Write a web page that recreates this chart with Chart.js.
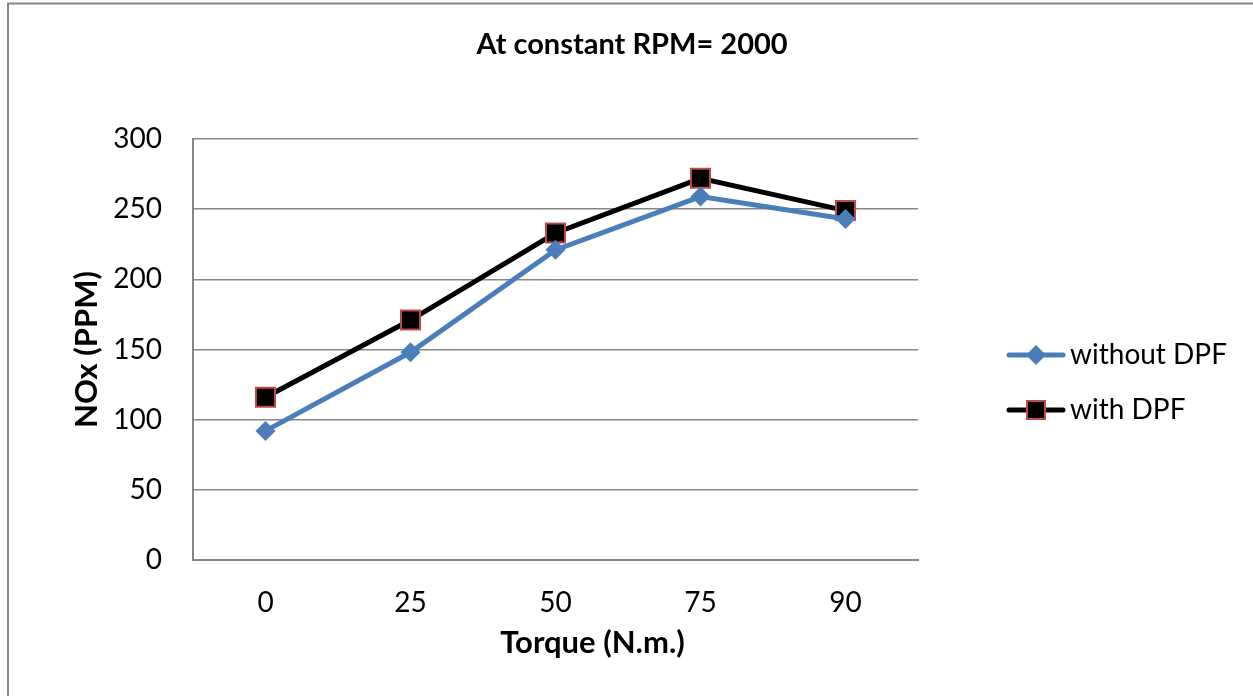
<!DOCTYPE html>
<html>
<head>
<meta charset="utf-8">
<script src="https://cdn.jsdelivr.net/npm/chart.js@4"></script>
<style>
  html, body { margin: 0; padding: 0; background: #fff; }
  #wrap { width: 1253px; height: 696px; }
</style>
</head>
<body>
<div id="wrap"><canvas id="chart" width="1253" height="696"></canvas></div>
<script>
const torque = ['0', '25', '50', '75', '90'];
const withoutDPF = [92, 148, 221, 259, 243];
const withDPF = [116, 171, 233, 272, 249];
const yTicks = [0, 50, 100, 150, 200, 250, 300];
const xTitle = 'Torque (N.m.)';

const FONT = 'Lato, "Noto Sans", sans-serif';
const BLUE = '#4A7EBB';
const RED = '#BE4B48';
const GRID = '#868686';

// legend swatch: short line with the marker in the middle
function swatch(kind) {
    const c = document.createElement('canvas');
    c.width = 60; c.height = 24;
    const g = c.getContext('2d');
    g.lineWidth = 5;
    g.lineCap = 'round';
    g.strokeStyle = kind === 'diamond' ? BLUE : '#000';
    g.beginPath(); g.moveTo(3, 12); g.lineTo(57, 12); g.stroke();
    if (kind === 'diamond') {
        g.fillStyle = BLUE;
        g.beginPath();
        g.moveTo(30, 2); g.lineTo(40, 12); g.lineTo(30, 22); g.lineTo(20, 12);
        g.closePath(); g.fill();
    } else {
        g.fillStyle = '#000';
        g.fillRect(21, 3, 18, 18);
        g.strokeStyle = RED; g.lineWidth = 2;
        g.strokeRect(21, 3, 18, 18);
    }
    return c;
}
const swatches = [swatch('diamond'), swatch('square')];

// outer frame, x axis title (a bit right of the plot centre, as in the original) and legend
const extras = {
    id: 'extras',
    beforeDraw(chart) {
        const g = chart.ctx;
        g.save();
        g.strokeStyle = GRID;
        g.lineWidth = 2;
        g.beginPath();
        g.moveTo(8, 700); g.lineTo(8, 3.5); g.lineTo(1260, 3.5);
        g.stroke();
        g.restore();
    },
    afterDraw(chart) {
        const g = chart.ctx;
        const a = chart.chartArea;
        g.save();
        g.fillStyle = '#000';
        g.textBaseline = 'middle';

        g.font = 'bold 31px ' + FONT;
        g.textAlign = 'center';
        g.fillText(xTitle, (a.left + a.right) / 2 + 37, a.bottom + 83);

        g.font = '28px ' + FONT;
        g.textAlign = 'left';
        chart.data.datasets.forEach((ds, i) => {
            const y = 355 + i * 55;
            g.drawImage(swatches[i], a.right + 88, y - 12);
            g.fillText(ds.label, a.right + 152, y);
        });
        g.restore();
    }
};

new Chart(document.getElementById('chart').getContext('2d'), {
    type: 'line',
    data: {
        labels: torque,
        datasets: [{
            label: 'without DPF',
            data: withoutDPF,
            borderColor: BLUE,
            backgroundColor: BLUE,
            borderWidth: 5,
            pointStyle: 'rectRot',
            pointRadius: 10,
            pointBorderWidth: 0,
            pointHoverRadius: 10,
            tension: 0
        }, {
            label: 'with DPF',
            data: withDPF,
            borderColor: '#000',
            backgroundColor: '#000',
            borderWidth: 5,
            pointStyle: 'rect',
            pointRadius: 13.5,
            pointBackgroundColor: '#000',
            pointBorderColor: RED,
            pointBorderWidth: 2,
            pointHoverRadius: 13.5,
            tension: 0
        }]
    },
    options: {
        responsive: false,
        animation: false,
        layout: { padding: { left: 11, right: 0, top: 0, bottom: 0 } },
        plugins: {
            title: {
                display: true,
                text: 'At constant RPM= 2000',
                color: '#000',
                font: { family: FONT, size: 29, weight: 'bold' },
                padding: { top: 27.6, bottom: 76.6 }
            },
            legend: { display: false },
            tooltip: { enabled: false }
        },
        scales: {
            x: {
                offset: true,
                afterFit(scale) { scale.height = 136; },
                grid: { display: false, drawTicks: false },
                border: { display: true, color: GRID, width: 2 },
                ticks: { color: '#000', padding: 26, font: { family: FONT, size: 28 } }
            },
            y: {
                min: 0,
                max: 300,
                afterBuildTicks(axis) { axis.ticks = yTicks.map(v => ({ value: v })); },
                afterFit(scale) { scale.width = 182; },
                grid: { color: GRID, lineWidth: 1.5, drawTicks: false },
                border: { display: true, color: GRID, width: 2 },
                ticks: { color: '#000', padding: 31, font: { family: FONT, size: 28 } },
                title: {
                    display: true,
                    text: 'NOx (PPM)',
                    color: '#000',
                    font: { family: FONT, size: 31, weight: 'bold' },
                    padding: { top: 57.4, bottom: 4 }
                }
            },
            // empty right-hand axis that only reserves the legend column
            yR: {
                type: 'linear',
                position: 'right',
                min: 0,
                max: 300,
                afterFit(scale) { scale.width = 335; },
                grid: { display: false, drawTicks: false },
                border: { display: false },
                ticks: { display: false }
            }
        }
    },
    plugins: [extras]
});
</script>
</body>
</html>
